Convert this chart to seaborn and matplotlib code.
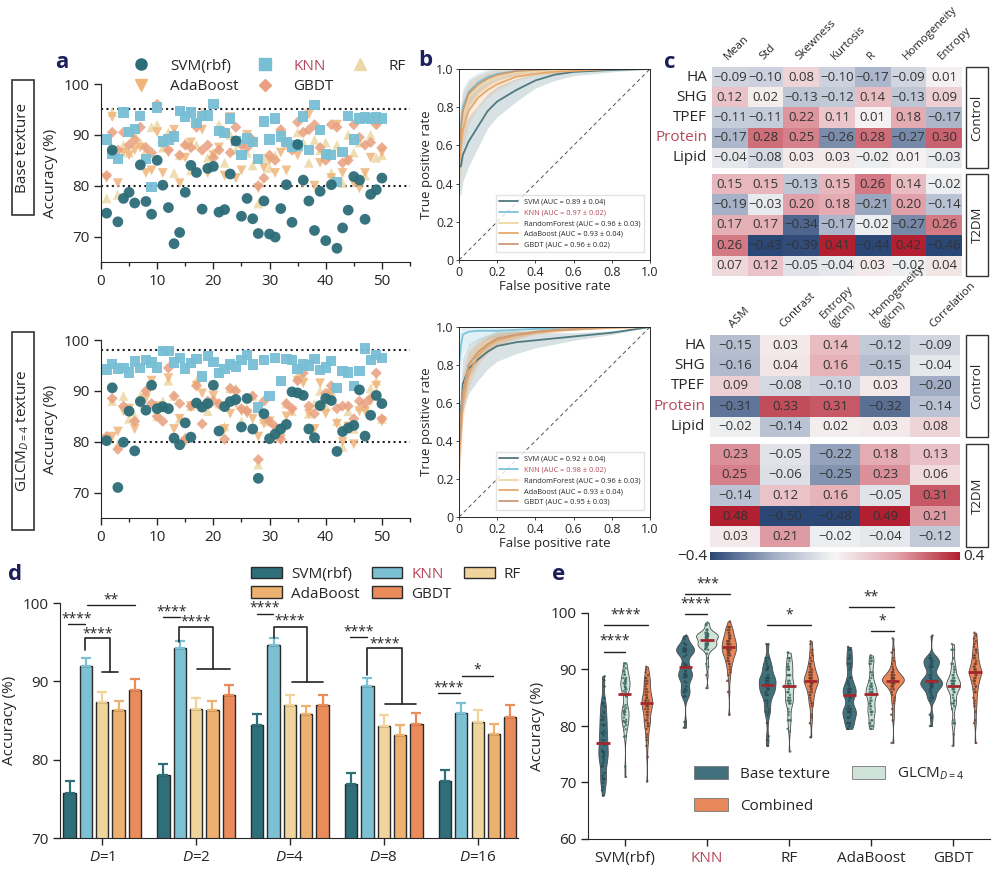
import numpy as np
import pandas as pd
import matplotlib
matplotlib.use("Agg")
import matplotlib.pyplot as plt
import seaborn as sns
from matplotlib.colors import LinearSegmentedColormap, Normalize
from matplotlib.patches import Rectangle, Patch
from matplotlib.lines import Line2D

sns.set_style("ticks")
plt.rcParams['font.family'] = ['Open Sans', 'DejaVu Sans']
plt.rcParams['mathtext.fontset'] = 'custom'
plt.rcParams['mathtext.it'] = 'Open Sans:italic'
plt.rcParams['mathtext.rm'] = 'Open Sans'

################### data

models = ['SVM(rbf)', 'KNN', 'RF', 'AdaBoost', 'GBDT']
run = list(range(1, 51))

# panel a, base texture (50 runs per classifier)
base_svm = [74.6, 87.0, 72.9, 77.5, 78.7, 76.6, 84.1, 76.9, 74.4, 85.0, 80.1, 75.7, 68.6, 70.8, 78.7, 84.0, 82.6, 75.4, 83.4, 83.8,
            74.8, 75.3, 82.3, 88.8, 74.0, 77.5, 73.5, 70.6, 77.0, 70.5, 69.9, 75.5, 80.2, 72.8, 88.1, 81.1, 77.0, 71.2, 78.9, 69.2,
            80.2, 67.7, 71.7, 75.2, 81.8, 81.1, 73.4, 78.3, 79.2, 81.5]
base_knn = [89.1, 86.3, 85.3, 94.4, 90.6, 91.1, 93.7, 85.2, 79.7, 95.4, 88.7, 89.1, 89.7, 94.7, 93.6, 94.4, 92.3, 93.7, 93.8, 96.0,
            90.8, 90.3, 93.2, 88.8, 86.0, 89.3, 88.6, 85.2, 92.6, 89.1, 93.2, 89.7, 88.6, 87.7, 87.9, 93.6, 87.0, 95.9, 90.9, 86.3,
            86.0, 80.7, 86.6, 93.7, 89.1, 93.2, 93.4, 93.2, 93.4, 93.2]
base_rf = [77.5, 94.5, 78.2, 88.0, 86.5, 90.2, 88.5, 87.0, 91.5, 92.0, 87.5, 90.5, 82.5, 86.0, 88.5, 83.0, 88.0, 94.5, 85.5, 86.5,
           92.0, 84.5, 90.0, 87.0, 88.5, 86.5, 84.0, 76.5, 85.5, 83.5, 86.0, 91.0, 88.0, 87.5, 90.5, 88.5, 84.5, 89.0, 87.0, 88.5,
           82.5, 88.0, 80.5, 90.0, 86.5, 88.5, 82.0, 90.0, 85.5, 86.0]
base_ada = [81.5, 93.5, 80.5, 86.5, 86.0, 87.0, 87.5, 82.5, 83.0, 90.5, 82.5, 86.5, 91.0, 80.5, 85.5, 88.5, 92.0, 91.0, 82.5, 86.0,
            87.5, 82.0, 93.5, 81.5, 83.0, 90.0, 88.5, 79.5, 83.5, 85.0, 82.5, 86.5, 83.0, 88.0, 86.0, 80.5, 94.0, 80.0, 84.5, 86.0,
            81.5, 92.0, 82.5, 85.0, 80.5, 79.5, 82.5, 85.5, 92.5, 86.5]
base_gbdt = [82.0, 90.5, 87.0, 90.5, 88.0, 89.0, 91.5, 87.5, 86.5, 96.0, 88.5, 87.0, 90.0, 86.0, 88.0, 87.5, 91.5, 87.0, 88.0, 85.5,
             87.0, 90.5, 86.5, 91.5, 88.0, 87.5, 89.0, 80.0, 81.5, 86.0, 85.0, 91.0, 88.5, 87.0, 92.5, 90.5, 91.0, 92.0, 87.5, 85.0,
             92.0, 91.5, 84.5, 85.0, 92.0, 89.5, 88.0, 88.5, 92.0, 87.5]

# panel a, GLCM D=4 texture
glcm_svm = [80.2, 90.6, 71.0, 79.9, 86.0, 78.2, 87.9, 86.2, 91.1, 86.5, 86.9, 86.5, 80.7, 79.4, 83.7, 80.9, 87.6, 86.8, 87.5, 91.1,
            82.1, 86.9, 87.9, 88.3, 82.9, 88.5, 82.5, 72.8, 85.5, 80.6, 81.5, 82.5, 83.4, 89.8, 89.6, 89.1, 82.5, 80.8, 87.1, 88.5,
            88.1, 78.1, 82.0, 82.7, 83.2, 90.2, 81.1, 85.2, 89.1, 87.5]
glcm_knn = [94.2, 95.3, 94.4, 94.5, 93.6, 95.8, 94.5, 96.1, 95.6, 94.6, 97.9, 97.9, 95.6, 96.5, 94.4, 95.5, 96.2, 92.8, 96.9, 95.7,
            93.5, 94.3, 95.2, 94.8, 96.0, 97.0, 95.2, 86.7, 96.0, 89.0, 96.5, 92.0, 96.3, 96.0, 94.3, 95.2, 95.0, 96.3, 94.1, 94.6,
            95.9, 90.5, 93.9, 93.6, 91.0, 93.9, 98.3, 96.0, 97.1, 96.4]
glcm_rf = [81.0, 88.0, 79.5, 89.0, 84.5, 85.0, 89.0, 90.0, 91.5, 85.0, 88.0, 92.0, 89.0, 84.5, 81.0, 87.0, 92.0, 87.0, 86.0, 91.0,
           87.5, 83.0, 90.5, 90.5, 84.0, 86.5, 89.0, 75.5, 84.5, 84.0, 81.0, 82.0, 87.5, 86.0, 93.0, 93.0, 85.5, 87.5, 90.0, 87.0,
           90.0, 84.0, 79.0, 86.0, 82.5, 87.0, 87.0, 90.5, 92.0, 84.5]
glcm_ada = [80.5, 81.0, 82.0, 86.0, 86.5, 82.5, 87.5, 88.5, 92.0, 87.0, 86.5, 92.5, 82.5, 84.5, 80.0, 87.0, 91.0, 89.5, 87.0, 89.0,
            87.0, 82.5, 85.5, 87.5, 86.0, 85.5, 84.5, 81.0, 83.5, 84.0, 82.5, 80.5, 85.0, 86.0, 92.0, 91.5, 85.5, 82.5, 91.5, 85.5,
            89.5, 83.5, 80.0, 83.0, 79.5, 86.0, 86.0, 88.0, 91.0, 84.0]
glcm_gbdt = [81.0, 88.5, 78.5, 87.0, 86.0, 84.0, 88.0, 90.0, 87.5, 85.0, 84.0, 94.5, 89.0, 87.5, 80.5, 87.0, 91.0, 83.5, 88.0, 88.0,
             87.5, 80.5, 90.5, 90.0, 86.5, 86.0, 89.0, 76.5, 88.0, 84.0, 83.0, 80.5, 87.5, 86.5, 92.0, 93.5, 87.0, 85.5, 87.0, 89.5,
             91.0, 86.5, 87.0, 87.0, 84.5, 88.0, 87.5, 88.5, 93.5, 84.5]

# panel e, combined features
comb_svm = [84.0, 86.5, 80.5, 88.0, 82.0, 85.0, 90.0, 78.0, 84.5, 87.5, 81.0, 83.5, 89.5, 74.5, 85.5, 82.5, 88.5, 80.0, 84.0, 86.0,
            77.5, 83.0, 87.0, 79.5, 85.0, 90.5, 81.5, 70.2, 84.0, 86.5, 82.0, 88.0, 83.5, 80.5, 85.5, 84.5, 87.5, 78.5, 83.0, 89.0,
            81.0, 84.0, 86.0, 76.5, 82.5, 85.0, 88.5, 80.0, 84.5, 83.5]
comb_knn = [93.5, 95.0, 91.0, 97.5, 94.0, 92.5, 96.0, 89.5, 94.5, 98.5, 93.0, 95.5, 90.5, 96.5, 92.0, 94.0, 97.0, 88.0, 93.5, 95.0,
            82.0, 94.5, 96.0, 91.5, 93.0, 97.5, 92.5, 86.0, 94.0, 95.5, 93.5, 96.5, 90.0, 94.5, 92.0, 95.0, 97.0, 93.0, 91.0, 94.0,
            96.0, 93.5, 89.0, 95.5, 92.5, 94.5, 97.5, 93.0, 95.0, 91.5]
comb_rf = [88.0, 90.5, 85.5, 93.0, 87.0, 89.5, 84.0, 91.5, 88.5, 86.0, 94.5, 87.5, 82.0, 90.0, 88.0, 85.0, 92.0, 89.0, 86.5, 88.5,
           78.0, 87.0, 91.0, 88.0, 84.5, 93.5, 89.5, 80.5, 87.5, 90.5, 86.0, 88.5, 92.5, 85.5, 88.0, 89.0, 83.5, 91.0, 87.0, 88.5,
           95.0, 86.5, 89.5, 84.0, 88.0, 90.0, 87.5, 81.5, 89.0, 88.0]
comb_ada = [88.0, 89.5, 86.5, 91.0, 87.5, 88.5, 85.0, 93.0, 88.0, 87.0, 95.5, 88.5, 84.0, 89.0, 88.0, 86.0, 90.5, 88.5, 87.5, 88.0,
            77.0, 87.0, 90.0, 88.5, 85.5, 92.0, 89.0, 81.0, 88.0, 89.5, 86.5, 88.0, 91.5, 87.0, 88.5, 89.0, 84.5, 90.0, 88.0, 87.5,
            93.5, 88.0, 89.5, 83.0, 88.5, 89.0, 87.5, 82.0, 88.0, 88.5]
comb_gbdt = [89.5, 92.0, 86.0, 95.0, 88.5, 91.0, 84.0, 93.5, 89.5, 87.0, 96.5, 90.0, 83.5, 92.5, 89.0, 86.5, 94.0, 90.5, 88.0, 89.5,
             77.0, 88.0, 93.0, 89.5, 85.0, 95.5, 91.0, 80.5, 89.0, 92.0, 87.5, 90.0, 94.5, 86.0, 89.5, 91.5, 84.5, 93.5, 88.5, 90.0,
             96.0, 87.0, 91.0, 82.5, 89.5, 92.5, 88.0, 81.0, 90.5, 89.5]

# panel b, mean ROC curves and std bands
fpr = [0, 0.01, 0.02, 0.05, 0.1, 0.15, 0.2, 0.3, 0.4, 0.5, 0.6, 0.8, 1.0]
roc_names = ['SVM', 'KNN', 'RandomForest', 'AdaBoost', 'GBDT']
auc_base = ['0.89 ± 0.04', '0.97 ± 0.02', '0.96 ± 0.03', '0.93 ± 0.04', '0.96 ± 0.02']
auc_glcm = ['0.92 ± 0.04', '0.98 ± 0.02', '0.96 ± 0.03', '0.93 ± 0.04', '0.95 ± 0.03']
tpr_base = [
    [0.49, 0.49, 0.55, 0.62, 0.70, 0.78, 0.83, 0.89, 0.94, 0.97, 0.985, 0.995, 1.0],
    [0.60, 0.70, 0.80, 0.88, 0.93, 0.96, 0.975, 0.99, 0.995, 1.0, 1.0, 1.0, 1.0],
    [0.55, 0.65, 0.75, 0.85, 0.91, 0.94, 0.96, 0.98, 0.99, 0.995, 1.0, 1.0, 1.0],
    [0.50, 0.60, 0.68, 0.78, 0.85, 0.89, 0.92, 0.96, 0.975, 0.985, 0.99, 1.0, 1.0],
    [0.55, 0.68, 0.78, 0.87, 0.92, 0.95, 0.97, 0.99, 0.995, 1.0, 1.0, 1.0, 1.0],
]
tpr_glcm = [
    [0.40, 0.55, 0.70, 0.78, 0.83, 0.87, 0.90, 0.92, 0.93, 0.94, 0.95, 0.97, 1.0],
    [0.80, 0.90, 0.96, 0.975, 0.98, 0.98, 0.98, 0.985, 0.99, 0.99, 0.995, 1.0, 1.0],
    [0.35, 0.50, 0.65, 0.80, 0.88, 0.92, 0.94, 0.96, 0.975, 0.985, 0.99, 1.0, 1.0],
    [0.30, 0.45, 0.60, 0.75, 0.85, 0.90, 0.93, 0.955, 0.97, 0.98, 0.985, 0.995, 1.0],
    [0.35, 0.50, 0.65, 0.80, 0.87, 0.91, 0.94, 0.96, 0.975, 0.985, 0.99, 1.0, 1.0],
]
std_svm = [0.15, 0.15, 0.14, 0.13, 0.11, 0.09, 0.08, 0.06, 0.04, 0.03, 0.02, 0.01, 0.0]
std_other = [0.15, 0.13, 0.10, 0.07, 0.05, 0.04, 0.03, 0.02, 0.01, 0.01, 0.0, 0.0, 0.0]

# panel c, correlations
rows_c = ['HA', 'SHG', 'TPEF', 'Protein', 'Lipid']
cols_base = ['Mean', 'Std', 'Skewness', 'Kurtosis', 'R', 'Homogeneity', 'Entropy']
cols_glcm = ['ASM', 'Contrast', 'Entropy\n(glcm)', 'Homogeneity\n(glcm)', 'Correlation']
corr_base_ctrl = [[-0.09, -0.10, 0.08, -0.10, -0.17, -0.09, 0.01],
                  [0.12, 0.02, -0.13, -0.12, 0.14, -0.13, 0.09],
                  [-0.11, -0.11, 0.22, 0.11, 0.01, 0.18, -0.17],
                  [-0.17, 0.28, 0.25, -0.26, 0.28, -0.27, 0.30],
                  [-0.04, -0.08, 0.03, 0.03, -0.02, 0.01, -0.03]]
corr_base_t2dm = [[0.15, 0.15, -0.13, 0.15, 0.26, 0.14, -0.02],
                  [-0.19, -0.03, 0.20, 0.18, -0.21, 0.20, -0.14],
                  [0.17, 0.17, -0.34, -0.17, -0.02, -0.27, 0.26],
                  [0.26, -0.43, -0.39, 0.41, -0.44, 0.42, -0.46],
                  [0.07, 0.12, -0.05, -0.04, 0.03, -0.02, 0.04]]
corr_glcm_ctrl = [[-0.15, 0.03, 0.14, -0.12, -0.09],
                  [-0.16, 0.04, 0.16, -0.15, -0.04],
                  [0.09, -0.08, -0.10, 0.03, -0.20],
                  [-0.31, 0.33, 0.31, -0.32, -0.14],
                  [-0.02, -0.14, 0.02, 0.03, 0.08]]
corr_glcm_t2dm = [[0.23, -0.05, -0.22, 0.18, 0.13],
                  [0.25, -0.06, -0.25, 0.23, 0.06],
                  [-0.14, 0.12, 0.16, -0.05, 0.31],
                  [0.48, -0.50, -0.48, 0.49, 0.21],
                  [0.03, 0.21, -0.02, -0.04, -0.12]]

# panel d, mean accuracy and error per distance D
d_labels = ['$D$=1', '$D$=2', '$D$=4', '$D$=8', '$D$=16']
d_svm = [75.7, 78.1, 84.4, 76.9, 77.3]
d_knn = [92.0, 94.3, 94.7, 89.4, 85.9]
d_rf = [87.3, 86.5, 87.0, 84.3, 84.8]
d_ada = [86.3, 86.4, 85.8, 83.1, 83.3]
d_gbdt = [88.9, 88.2, 87.0, 84.5, 85.4]
e_svm = [1.6, 1.4, 1.4, 1.4, 1.4]
e_knn = [1.0, 0.8, 0.8, 1.0, 1.3]
e_rf = [1.4, 1.4, 1.3, 1.4, 1.5]
e_ada = [1.2, 1.1, 1.1, 1.3, 1.3]
e_gbdt = [1.4, 1.3, 1.3, 1.4, 1.6]

sets_e = ['Base texture', 'GLCM$_{D=4}$', 'Combined']

################### styling
W, H = 1003, 882
def box(l, t, r, b):
    return [l / W, 1 - b / H, (r - l) / W, (b - t) / H]

navy = '#1c1f5c'
knn_red = '#b5485d'
pal = {'SVM(rbf)': '#2e6f7a', 'KNN': '#7cc0d4', 'RF': '#f1d49c', 'AdaBoost': '#edb16f', 'GBDT': '#e98b5b'}
a_cols = {'SVM(rbf)': '#2c6d78', 'KNN': '#78bfd5', 'RF': '#ecd8a6', 'AdaBoost': '#f0b57a', 'GBDT': '#e9a07f'}
a_marks = {'SVM(rbf)': 'o', 'KNN': 's', 'RF': '^', 'AdaBoost': 'v', 'GBDT': 'D'}
a_size = {'SVM(rbf)': 60, 'KNN': 55, 'RF': 50, 'AdaBoost': 50, 'GBDT': 32}
leg_order = ['SVM(rbf)', 'AdaBoost', 'KNN', 'GBDT', 'RF']

fig = plt.figure(figsize=(10.03, 8.82), dpi=100)

def panel_letter(px, py, s):
    fig.text(px / W, 1 - py / H, s, fontsize=16, fontweight='bold', color=navy, ha='left', va='center')

def color_knn(texts):
    for t in texts:
        if t.get_text() in ('KNN', 'KNN (AUC = 0.97 ± 0.02)', 'KNN (AUC = 0.98 ± 0.02)'):
            t.set_color(knn_red)

################### panel a
a_data = [
    (box(101, 84, 410, 262), {'SVM(rbf)': base_svm, 'KNN': base_knn, 'RF': base_rf, 'AdaBoost': base_ada, 'GBDT': base_gbdt}, [95, 80]),
    (box(101, 340, 410, 518), {'SVM(rbf)': glcm_svm, 'KNN': glcm_knn, 'RF': glcm_rf, 'AdaBoost': glcm_ada, 'GBDT': glcm_gbdt}, [98, 80]),
]
a_axes = []
for pos, vals, refs in a_data:
    ax = fig.add_axes(pos)
    for m in ['RF', 'AdaBoost', 'GBDT', 'KNN', 'SVM(rbf)']:
        sns.scatterplot(x=run, y=vals[m], marker=a_marks[m], color=a_cols[m], s=a_size[m],
                        edgecolor='none', alpha=0.95 if m in ('SVM(rbf)', 'KNN') else 0.85, ax=ax, legend=False)
    for r in refs:
        ax.axhline(r, ls=(0, (1, 1.6)), color='#222222', lw=1.5, zorder=0)
    ax.set_xlim(0, 55)
    ax.set_ylim(65, 100)
    ax.set_yticks([70, 80, 90, 100])
    ax.set_xticks([0, 10, 20, 30, 40, 50])
    ax.set_xticks([5, 15, 25, 35, 45, 55], minor=True)
    ax.tick_params(labelsize=11, width=1, length=5)
    ax.tick_params(which='minor', length=3, width=1)
    ax.set_ylabel('Accuracy (%)', fontsize=11)
    sns.despine(ax=ax)
    a_axes.append(ax)

handles = [Line2D([], [], ls='', marker=a_marks[m], color=a_cols[m], markersize=8 if m != 'GBDT' else 6) for m in leg_order]
leg = a_axes[0].legend(handles, leg_order, ncol=3, loc='lower left', bbox_to_anchor=(0.06, 0.91), frameon=False,
                       fontsize=11, handletextpad=0.9, columnspacing=0.7, labelspacing=0.35, borderaxespad=0)
color_knn(leg.get_texts())

fig.add_artist(Rectangle((12 / W, 1 - 215 / H), 22 / W, 135 / H, transform=fig.transFigure, fill=False, lw=1.2, ec='#333333'))
fig.text(23 / W, 1 - 148 / H, 'Base texture', rotation=90, ha='center', va='center', fontsize=11)
fig.add_artist(Rectangle((12 / W, 1 - 530 / H), 22 / W, 198 / H, transform=fig.transFigure, fill=False, lw=1.2, ec='#333333'))
fig.text(23 / W, 1 - 431 / H, 'GLCM$_{D\\mathregular{=4}}$ texture', rotation=90, ha='center', va='center', fontsize=11)
panel_letter(55, 62, 'a')

################### panel b
roc_cols = ['#4f7a80', '#7cc3d9', '#f0d6a0', '#e8a86a', '#c99a7a']
for pos, tprs, aucs in [(box(459, 69, 650, 260), tpr_base, auc_base), (box(459, 327, 650, 517), tpr_glcm, auc_glcm)]:
    ax = fig.add_axes(pos)
    for k in range(5):
        sd = np.array(std_svm if k == 0 else std_other)
        t = np.array(tprs[k])
        ax.fill_between(fpr, np.clip(t - sd, 0, 1), np.clip(t + sd, 0, 1), color=roc_cols[k], alpha=0.22, lw=0)
    for k in range(5):
        sns.lineplot(x=fpr, y=tprs[k], color=roc_cols[k], lw=1.3, ax=ax,
                     label=f'{roc_names[k]} (AUC = {aucs[k]})')
    ax.plot([0, 1], [0, 1], ls=(0, (4, 3)), color='#555555', lw=0.7)
    ax.set_xlim(0, 1)
    ax.set_ylim(0, 1)
    ticks = [0, 0.2, 0.4, 0.6, 0.8, 1.0]
    tl = ['0', '0.2', '0.4', '0.6', '0.8', '1.0']
    ax.set_xticks(ticks, tl)
    ax.set_yticks(ticks, tl)
    ax.tick_params(labelsize=9, length=2, width=0.6, pad=2)
    ax.set_xlabel('False positive rate', fontsize=9.5, labelpad=1)
    ax.set_ylabel('True positive rate', fontsize=9.5, labelpad=2)
    for s in ax.spines.values():
        s.set_linewidth(0.7)
    lg = ax.legend(loc='lower right', bbox_to_anchor=(0.99, 0.02), fontsize=5.3, frameon=True, handlelength=2.6,
                   borderpad=0.5, labelspacing=0.5, fancybox=False, edgecolor='#dddddd')
    color_knn(lg.get_texts())
panel_letter(418, 60, 'b')

################### panel c
cmap = LinearSegmentedColormap.from_list('rb', ['#2b4775', '#a0adc4', '#f6f5f5', '#e2a3ab', '#b11f30'])

def fmt_ann(arr):
    return np.array([[f'{v:.2f}'.replace('-', '−') for v in row] for row in arr])

def corr_block(pos, arr, cols, top):
    ax = fig.add_axes(pos)
    df = pd.DataFrame(arr, index=rows_c, columns=cols)
    sns.heatmap(df, ax=ax, cmap=cmap, vmin=-0.4, vmax=0.4, annot=fmt_ann(arr), fmt='', cbar=False,
                annot_kws={'fontsize': 9.5, 'color': '#333333'},
                xticklabels=cols if top else False, yticklabels=rows_c if top else False)
    ax.tick_params(length=0)
    if top:
        ax.xaxis.tick_top()
        ax.set_xticklabels(cols, rotation=45, ha='left', va='bottom', rotation_mode='anchor', fontsize=8.2)
        ax.set_yticklabels(rows_c, rotation=0, fontsize=11)
        for t in ax.get_yticklabels():
            if t.get_text() == 'Protein':
                t.set_color(knn_red)
    ax.set_xlabel('')
    ax.set_ylabel('')
    return ax

def side_box(t, b, txt):
    fig.add_artist(Rectangle((966 / W, 1 - b / H), 22 / W, (b - t) / H, transform=fig.transFigure, fill=False, lw=1.0, ec='#333333'))
    fig.text(977 / W, 1 - (t + b) / 2 / H, txt, rotation=90, ha='center', va='center', fontsize=9.5)

corr_block(box(712, 67, 962, 168), corr_base_ctrl, cols_base, True)
corr_block(box(712, 174, 962, 276), corr_base_t2dm, cols_base, False)
corr_block(box(710, 335, 960, 437), corr_glcm_ctrl, cols_glcm, True)
corr_block(box(710, 444, 960, 547), corr_glcm_t2dm, cols_glcm, False)
side_box(67, 168, 'Control')
side_box(174, 276, 'T2DM')
side_box(335, 437, 'Control')
side_box(444, 547, 'T2DM')

cax = fig.add_axes(box(710, 552, 960, 560))
cb = fig.colorbar(plt.cm.ScalarMappable(norm=Normalize(-0.4, 0.4), cmap=cmap), cax=cax, orientation='horizontal')
cb.set_ticks([])
cb.outline.set_visible(False)
fig.text(707 / W, 1 - 557 / H, '−0.4', ha='right', va='center', fontsize=11)
fig.text(963 / W, 1 - 557 / H, '0.4', ha='left', va='center', fontsize=11)
panel_letter(664, 63, 'c')

################### panel d
df_d = pd.DataFrame({
    'D': d_labels * 5,
    'model': np.repeat(models, 5),
    'acc': d_svm + d_knn + d_rf + d_ada + d_gbdt,
    'err': e_svm + e_knn + e_rf + e_ada + e_gbdt,
})
axd = fig.add_axes(box(60, 603, 518, 838))
sns.barplot(data=df_d, x='D', y='acc', hue='model', hue_order=models, palette=pal, width=0.87, gap=0.25,
            edgecolor='#2b2b2b', linewidth=1.0, saturation=1, errorbar=None, legend=False, ax=axd)
for p in axd.patches:
    h = p.get_height()
    if h <= 0:
        continue
    cx = p.get_x() + p.get_width() / 2
    g = d_labels[int(round(cx))]
    sub = df_d[(df_d.D == g) & (np.isclose(df_d.acc, h))]
    e = sub.err.iloc[0]
    axd.errorbar(cx, h, yerr=[[0], [e]], fmt='none', ecolor=p.get_facecolor(), elinewidth=1.6, capsize=3.5, capthick=1.6, zorder=1)
axd.set_ylim(70, 100)
axd.set_xlim(-0.45, 4.43)
axd.set_yticks([70, 80, 90, 100])
axd.tick_params(labelsize=11, width=1, length=5)
axd.set_xlabel('')
axd.set_ylabel('Accuracy (%)', fontsize=11)
sns.despine(ax=axd)

def sig_line(ax, x1, x2, y, txt, ty, fs=10):
    ax.plot([x1, x2], [y, y], color='#222222', lw=1, clip_on=False)
    ax.text((x1 + x2) / 2, ty, txt, ha='center', va='center', fontsize=fs, clip_on=False)

def bracket(ax, xk, yk, ytop, xr, ylow, xa, xb, txt, ty, tx):
    ax.plot([xk, xk, xr, xr], [yk, ytop, ytop, ylow], color='#222222', lw=1.2, clip_on=False)
    ax.plot([xa, xb], [ylow, ylow], color='#222222', lw=1.2, clip_on=False)
    ax.text(tx, ty, txt, ha='center', va='center', fontsize=10)

sig_line(axd, -0.36, -0.18, 97.3, '****', 98.0)
sig_line(axd, -0.16, 0.35, 99.8, '**', 100.4)
bracket(axd, -0.18, 94.0, 95.5, 0.085, 91.2, 0.0, 0.17, '****', 96.0, -0.05)
sig_line(axd, 0.65, 0.83, 98.2, '****', 98.9)
bracket(axd, 0.82, 95.0, 97.0, 1.18, 91.6, 1.01, 1.36, '****', 97.6, 1.0)
sig_line(axd, 1.65, 1.82, 98.6, '****', 99.3)
bracket(axd, 1.83, 95.5, 97.0, 2.18, 89.9, 2.02, 2.35, '****', 97.7, 2.0)
sig_line(axd, 2.64, 2.82, 95.6, '****', 96.3)
bracket(axd, 2.82, 90.8, 94.2, 3.19, 87.1, 3.01, 3.34, '****', 94.8, 3.01)
sig_line(axd, 3.58, 3.81, 88.5, '****', 89.2)
sig_line(axd, 3.83, 4.16, 90.7, '*', 91.5)

hd = [Patch(facecolor=pal[m], edgecolor='#2b2b2b', lw=1.0) for m in leg_order]
lgd = axd.legend(hd, leg_order, ncol=3, loc='lower right', bbox_to_anchor=(1.02, 0.98), frameon=False, fontsize=11,
                 handlelength=2.0, handleheight=0.8, handletextpad=0.6, columnspacing=0.8, labelspacing=0.3, borderaxespad=0)
color_knn(lgd.get_texts())
panel_letter(8, 575, 'd')

################### panel e
e_vals = {
    'Base texture': [base_svm, base_knn, base_rf, base_ada, base_gbdt],
    'GLCM$_{D=4}$': [glcm_svm, glcm_knn, glcm_rf, glcm_ada, glcm_gbdt],
    'Combined': [comb_svm, comb_knn, comb_rf, comb_ada, comb_gbdt],
}
recs = []
for s in sets_e:
    for m, v in zip(models, e_vals[s]):
        for a in v:
            recs.append((m, s, a))
df_e = pd.DataFrame(recs, columns=['model', 'set', 'acc'])
vcols = {'Base texture': '#41717d', 'GLCM$_{D=4}$': '#cfe3d9', 'Combined': '#e8875a'}

axe = fig.add_axes(box(588, 613, 990, 839))
sns.violinplot(data=df_e, x='model', y='acc', hue='set', order=models, hue_order=sets_e, palette=vcols, inner=None,
               cut=0, width=0.8, linewidth=0.6, linecolor='#4a4a4a', saturation=1, bw_adjust=0.5, legend=False, ax=axe)
sns.stripplot(data=df_e, x='model', y='acc', hue='set', order=models, hue_order=sets_e,
              palette=['#2a4a52', '#3e6b66', '#6b3f2e'], dodge=True, size=1.8, jitter=0.06, alpha=0.8, legend=False, ax=axe)
med = df_e.groupby(['model', 'set']).acc.median()
for i, m in enumerate(models):
    for j, s in enumerate(sets_e):
        x = i + (j - 1) * 0.8 / 3
        axe.plot([x - 0.08, x + 0.08], [med[(m, s)]] * 2, color='#a3282d', lw=2, solid_capstyle='butt', zorder=5)
axe.set_ylim(60, 100)
axe.set_xlim(-0.45, 4.45)
axe.set_yticks([60, 70, 80, 90, 100])
axe.tick_params(labelsize=11, width=1, length=5)
axe.set_xlabel('')
axe.set_ylabel('Accuracy (%)', fontsize=11)
for t in axe.get_xticklabels():
    if t.get_text() == 'KNN':
        t.set_color(knn_red)
sns.despine(ax=axe)

sig_line(axe, -0.26, 0.0, 93.1, '****', 95.0)
sig_line(axe, -0.26, 0.28, 97.9, '****', 99.6)
sig_line(axe, 0.73, 1.0, 99.9, '****', 101.6)
sig_line(axe, 0.73, 1.28, 103.4, '***', 105.2)
sig_line(axe, 1.73, 2.27, 97.9, '*', 99.6)
sig_line(axe, 2.73, 3.28, 101.1, '**', 102.8)
sig_line(axe, 3.0, 3.28, 96.9, '*', 98.5)

he = [Patch(facecolor=vcols[s], edgecolor='#777777', lw=0.6) for s in ['Base texture', 'Combined', 'GLCM$_{D=4}$']]
axe.legend(he, ['Base texture', 'Combined', 'GLCM$_{D=4}$'], ncol=2, loc='lower left', bbox_to_anchor=(0.23, 0.05),
           frameon=False, fontsize=11, handlelength=2.2, handleheight=0.9, labelspacing=1.1, columnspacing=1.4)
panel_letter(552, 575, 'e')

fig.savefig('out.png', dpi=100)
